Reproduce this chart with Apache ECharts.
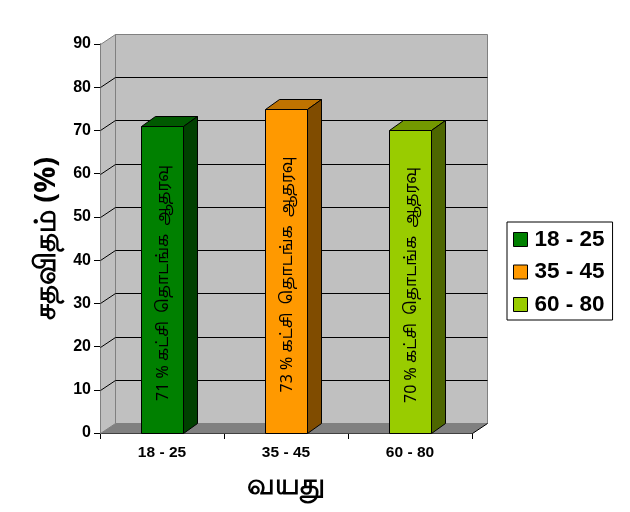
<!DOCTYPE html>
<html lang="ta">
<head>
    <meta charset="UTF-8">
    <title>வயது</title>
    <style type="text/css">
        body, html{width: 100%;height: 100%;margin:0;background:#fff;}
        #main {width: 630px;height: 512px;}
    </style>
    <script src="https://cdn.jsdelivr.net/npm/echarts@6/dist/echarts.min.js"></script>
</head>
<body>
<div id="main"></div>
<script type="text/javascript">
    var ageGroups = ['18 - 25', '35 - 45', '60 - 80'];
    var support = [71, 75, 70];
    var barLabels = ['71 % கட்சி  தொடங்க  ஆதரவு', '73 % கட்சி  தொடங்க  ஆதரவு', '70 % கட்சி  தொடங்க  ஆதரவு'];
    var frontColors = ['#008000', '#ff9900', '#99cc00'];
    var topColors = ['#005900', '#bf7300', '#739900'];
    var sideColors = ['#004000', '#804c00', '#4d6600'];
    var yTicks = [0, 10, 20, 30, 40, 50, 60, 70, 80, 90];

    var fontLatin = '"Liberation Sans", Arial, sans-serif';
    var depthX = 15, depthY = 10;

    // keep 1px lines sharp
    function snap(v) {
        return Math.round(v) + 0.5;
    }
    function poly(points, fill, stroke) {
        return {type: 'polygon', shape: {points: points}, style: {fill: fill, stroke: stroke || 'none', lineWidth: 1}};
    }
    function line(x1, y1, x2, y2, color) {
        return {type: 'line', shape: {x1: x1, y1: y1, x2: x2, y2: y2}, style: {stroke: color, lineWidth: 1}};
    }

    // back wall, left wall and floor
    function renderWalls(params, api) {
        var x0 = snap(params.coordSys.x), x1 = snap(params.coordSys.x + params.coordSys.width);
        var bottom = snap(api.coord([0, 0])[1]), top = snap(api.coord([0, 90])[1]);
        var kids = [
            poly([[x0 + depthX, top - depthY], [x1 + depthX, top - depthY], [x1 + depthX, bottom - depthY], [x0 + depthX, bottom - depthY]], '#c0c0c0', '#808080'),
            poly([[x0, top], [x0 + depthX, top - depthY], [x0 + depthX, bottom - depthY], [x0, bottom]], '#c0c0c0', '#808080'),
            poly([[x0, bottom], [x0 + depthX, bottom - depthY], [x1 + depthX, bottom - depthY], [x1, bottom]], '#808080')
        ];
        yTicks.forEach(function (t) {
            if (t === 0 || t === 90) return;
            var y = snap(api.coord([0, t])[1]);
            kids.push(line(x0, y, x0 + depthX, y - depthY, '#000'));
            kids.push(line(x0 + depthX, y - depthY, x1 + depthX, y - depthY, '#000'));
        });
        kids.push(line(x1, bottom, x1 + depthX, bottom - depthY, '#000'));
        return {type: 'group', children: kids};
    }

    function renderBar(i) {
        return function (params, api) {
            var c = api.coord([api.value(0), api.value(1)]);
            var base = snap(api.coord([api.value(0), 0])[1]);
            var y = snap(c[1]);
            var w = 42, dx = 14, dy = 10;
            var l = snap(c[0] - w / 2), r = l + w;
            return {type: 'group', children: [
                poly([[l, y], [l + dx, y - dy], [r + dx, y - dy], [r, y]], topColors[i], '#000'),
                poly([[r, y], [r + dx, y - dy], [r + dx, base - dy], [r, base]], sideColors[i], '#000'),
                poly([[l, y], [r, y], [r, base], [l, base]], frontColors[i], '#000'),
                {
                    type: 'text', x: c[0] + 1, y: (y + base) / 2 + 3, rotation: Math.PI / 2,
                    style: {
                        text: barLabels[i], fill: '#000', align: 'center', verticalAlign: 'middle',
                        font: '16px "Noto Sans", "Noto Sans Tamil", sans-serif'
                    }
                }
            ]};
        };
    }

    var series = [{
        name: 'walls', type: 'custom', z: 1, silent: true, clip: false,
        data: [[0, 0]], renderItem: renderWalls
    }];
    ageGroups.forEach(function (name, i) {
        series.push({
            name: name, type: 'custom', z: 2, clip: false,
            itemStyle: {color: frontColors[i]},
            data: [[i, support[i]]], renderItem: renderBar(i)
        });
    });

    var chart = echarts.init(document.getElementById('main'), null, {renderer: 'canvas'});
    chart.setOption({
        animation: false,
        backgroundColor: '#fff',
        grid: {left: 100, right: 158, top: 44, bottom: 79},
        legend: {
            data: ageGroups, orient: 'vertical', left: 507, top: 222,
            padding: [6, 8, 4, 6], itemWidth: 14, itemHeight: 14, itemGap: 9.5,
            borderColor: '#000', borderWidth: 1, borderRadius: 0, icon: 'rect',
            itemStyle: {borderColor: '#000', borderWidth: 1, borderJoin: 'miter'},
            textStyle: {color: '#000', fontFamily: fontLatin, fontWeight: 'bold', fontSize: 22.5, padding: [0, 0, 0, 2]}
        },
        xAxis: {
            type: 'category', data: ageGroups,
            name: 'வயது', nameLocation: 'middle', nameGap: 38,
            nameTextStyle: {color: '#000', fontWeight: 'bold', fontSize: 29, fontFamily: '"Noto Sans", sans-serif'},
            axisLine: {lineStyle: {color: '#000'}},
            axisTick: {show: true, alignWithLabel: false, length: 6, lineStyle: {color: '#000'}},
            axisLabel: {color: '#000', fontFamily: fontLatin, fontWeight: 'bold', fontSize: 15.5, margin: 12},
            splitLine: {show: false}
        },
        yAxis: {
            type: 'value', min: 0, max: 90, interval: 10,
            name: 'சதவிதம் (%)', nameLocation: 'middle', nameGap: 39,
            nameTextStyle: {color: '#000', fontWeight: 'bold', fontSize: 29, fontFamily: '"Noto Sans", sans-serif'},
            axisLine: {show: true, lineStyle: {color: '#000'}},
            axisTick: {show: true, length: 6, lineStyle: {color: '#000'}},
            axisLabel: {color: '#000', fontFamily: fontLatin, fontWeight: 'bold', fontSize: 16, margin: 9},
            splitLine: {show: false}
        },
        series: series
    });
</script>
</body>
</html>
